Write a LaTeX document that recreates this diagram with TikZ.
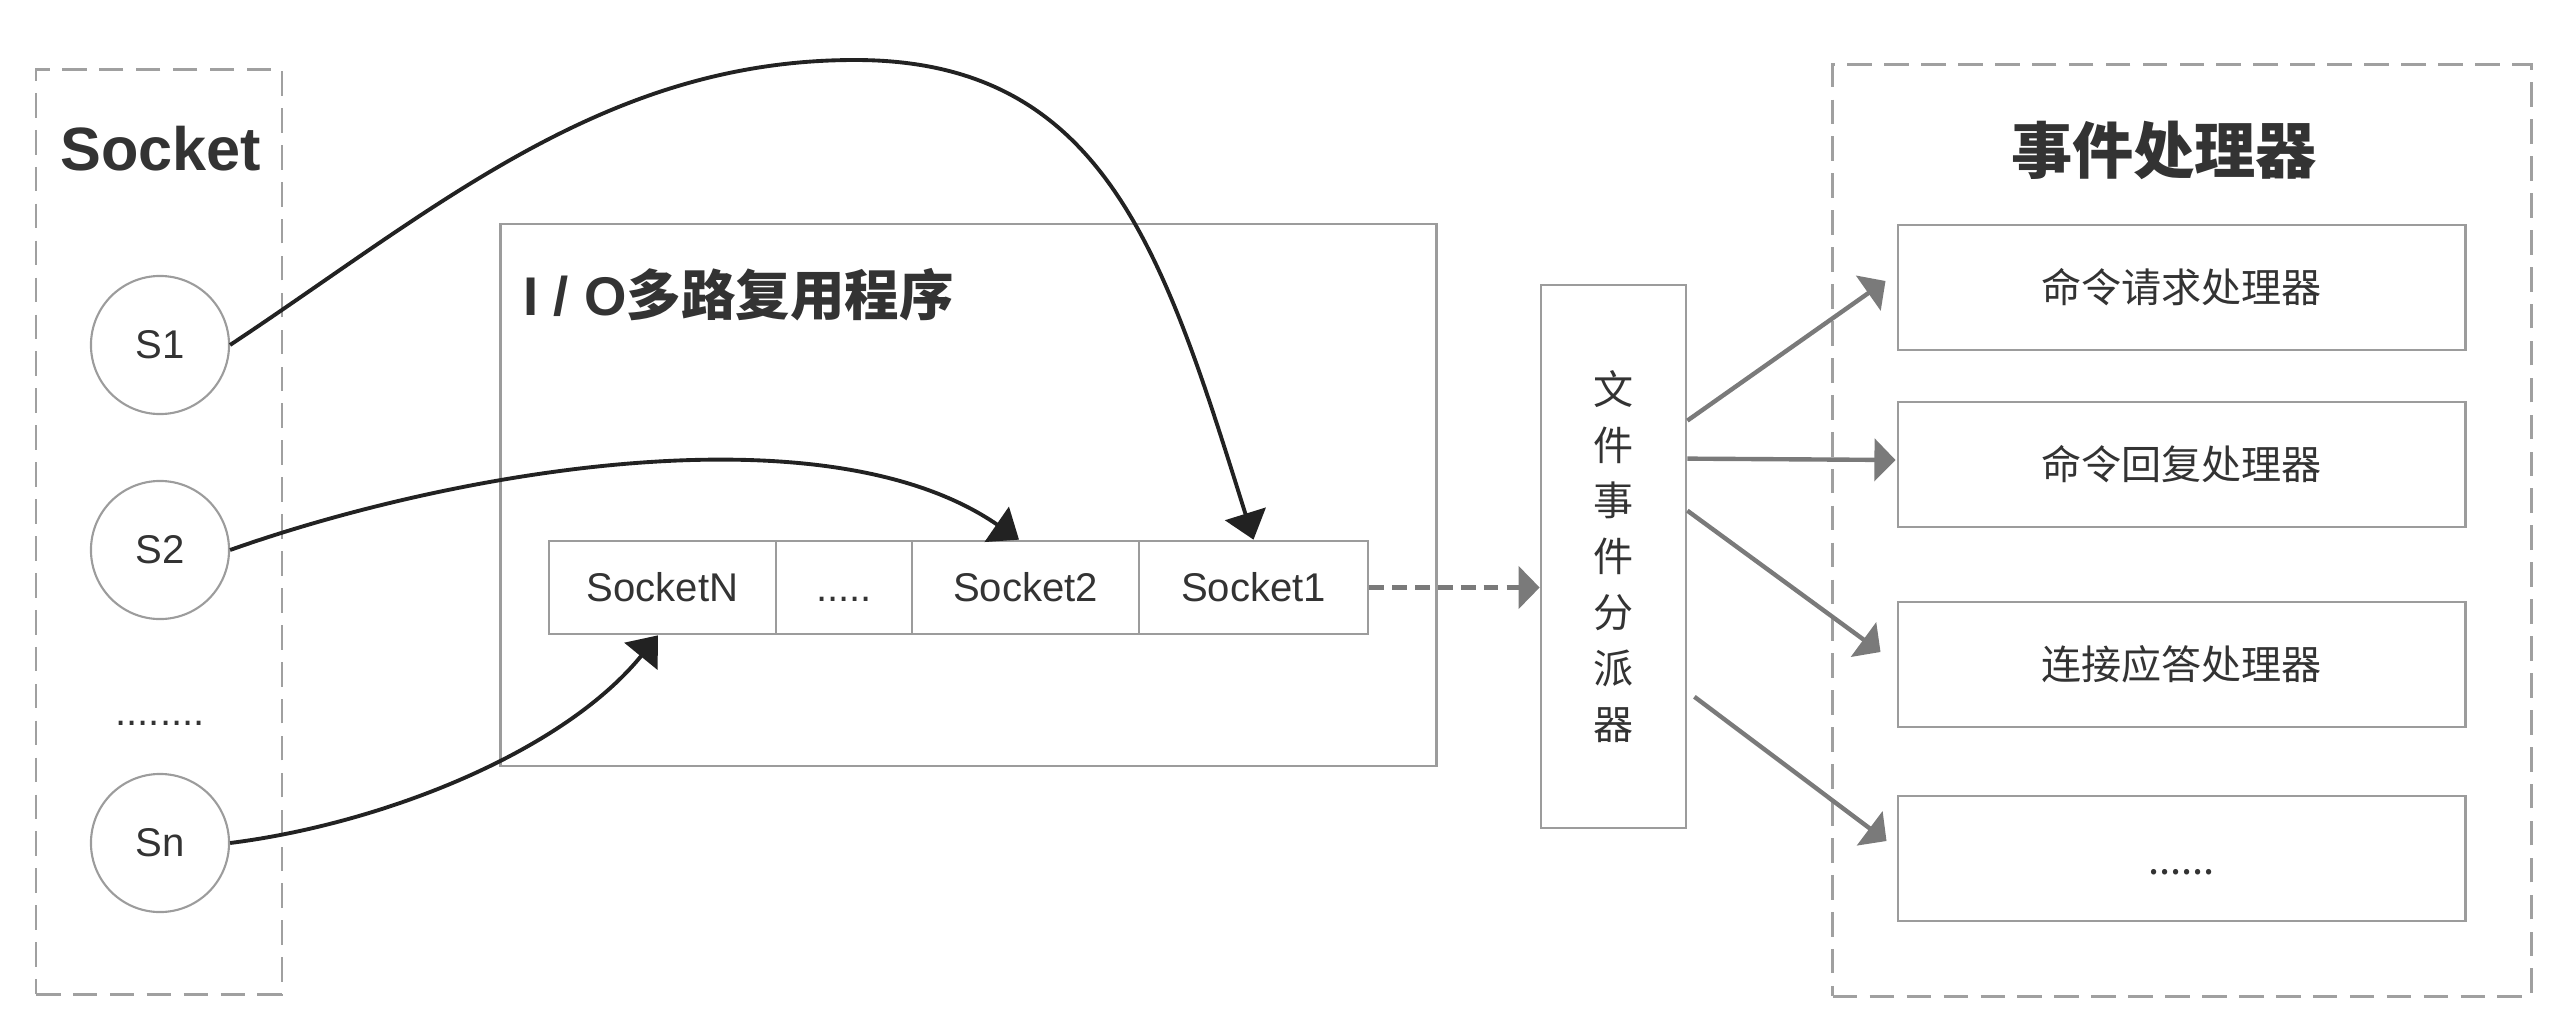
\documentclass[tikz,border=0pt]{standalone}
\usepackage{fontspec}
\setmainfont{Liberation Sans}
\newfontfamily\cjk{Noto Sans CJK SC}
\usetikzlibrary{arrows.meta,calc}
\definecolor{txt}{HTML}{333333}
\definecolor{bord}{HTML}{9C9C9C}
\definecolor{dbord}{HTML}{A0A0A0}
\definecolor{curv}{HTML}{222222}
\definecolor{garr}{HTML}{7A7A7A}
\begin{document}
\begin{tikzpicture}[x=0.01cm,y=-0.01cm,
  font=\fontsize{11.4pt}{13pt}\selectfont, text=txt,
  dbox/.style={draw=dbord, line width=0.8pt, dash pattern=on 7pt off 3.5pt, inner sep=0pt},
  pbox/.style={draw=bord, line width=0.75pt, inner sep=0pt},
  cell/.style={pbox, minimum height=0.93cm, text height=0.286cm, text depth=0cm},
  sock/.style={circle, draw=bord, line width=0.6pt, minimum size=1.38cm, inner sep=0pt},
  hbox/.style={pbox, minimum width=5.67cm, minimum height=1.25cm, font=\cjk\fontsize{11.4pt}{13pt}\selectfont},
  carrow/.style={draw=curv, line width=1.1pt, -{Triangle[length=7.7pt,width=12pt]}},
  garrow/.style={draw=garr, line width=1.25pt, -{Triangle[length=6pt,width=12pt]}},
]
\useasboundingbox (0,0) rectangle (2569,1021);

% Socket group
\node[dbox, minimum width=2.46cm, minimum height=9.24cm] (sgrp) at (159,532) {};
\node[font=\bfseries\fontsize{17.4pt}{20pt}\selectfont] (stitle) at (161,149) {Socket};
\node[sock] (s1) at (160,345) {S1};
\node[sock] (s2) at (160,550) {S2};
\node (sdots) at (160,723) {........};
\node[sock] (sn) at (160,843) {Sn};

% I/O multiplexer
\node[pbox, minimum width=9.35cm, minimum height=5.42cm] (io) at (968.5,495) {};
\node[anchor=west, inner sep=0pt, font=\bfseries\fontsize{15.5pt}{18pt}\selectfont] (iot) at (523,295) {I / O{\cjk 多路复用程序}};
\node[cell, minimum width=2.27cm] (qn) at (662.5,587.5) {SocketN};
\node[cell, minimum width=1.36cm] (qd) at (844,587.5) {.....};
\node[cell, minimum width=2.27cm] (q2) at (1025.5,587.5) {Socket2};
\node[cell, minimum width=2.29cm] (q1) at (1253.5,587.5) {Socket1};

% dispatcher
\node[pbox, minimum width=1.45cm, minimum height=5.43cm, align=center,
      font=\cjk\fontsize{11.4pt}{15.9pt}\selectfont] (disp) at (1613.5,556.5) {文\\件\\事\\件\\分\\派\\器};

% handlers
\node[dbox, minimum width=6.98cm, minimum height=9.31cm] (hgrp) at (2182,530.5) {};
\node[font=\cjk\bfseries\fontsize{17.4pt}{20pt}\selectfont] (htitle) at (2164,150) {事件处理器};
\node[hbox] (h1) at (2181.5,287.5) {命令请求处理器};
\node[hbox] (h2) at (2181.5,464.5) {命令回复处理器};
\node[hbox] (h3) at (2181.5,664.5) {连接应答处理器};
\node[hbox, text height=0.31cm, text depth=0cm] (h4) at (2181.5,858.5) {......};

% curves
\coordinate (pk) at (855,60);
\draw[carrow] (s1.east) .. controls (438,207) and (605,60) .. (pk)
  .. controls (1105,60) and (1164,254) .. (q1.north);
\draw[carrow] (s2.east) .. controls (453,471) and (825,406) .. ([xshift=-0.065cm]q2.north);
\draw[carrow] (sn.east) .. controls (381,824) and (562,753) .. ([xshift=-0.045cm]qn.south);

% dashed arrow
\draw[garrow, dash pattern=on 4.2pt off 2.3pt] (q1.east) -- (q1.east -| disp.west);

% dispatcher arrows
\draw[garrow] ([yshift=-1.37cm]disp.north east) -- ([shift={(-0.11cm,0.065cm)}]h1.west);
\draw[garrow] ([yshift=-1.75cm]disp.north east) -- ([shift={(-0.01cm,0.045cm)}]h2.west);
\draw[garrow] ([yshift=-2.27cm]disp.north east) -- ([shift={(-0.16cm,0.125cm)}]h3.west);
\draw[garrow] ([shift={(0.07cm,-4.13cm)}]disp.north east) -- ([shift={(-0.10cm,0.175cm)}]h4.west);
\end{tikzpicture}
\end{document}
